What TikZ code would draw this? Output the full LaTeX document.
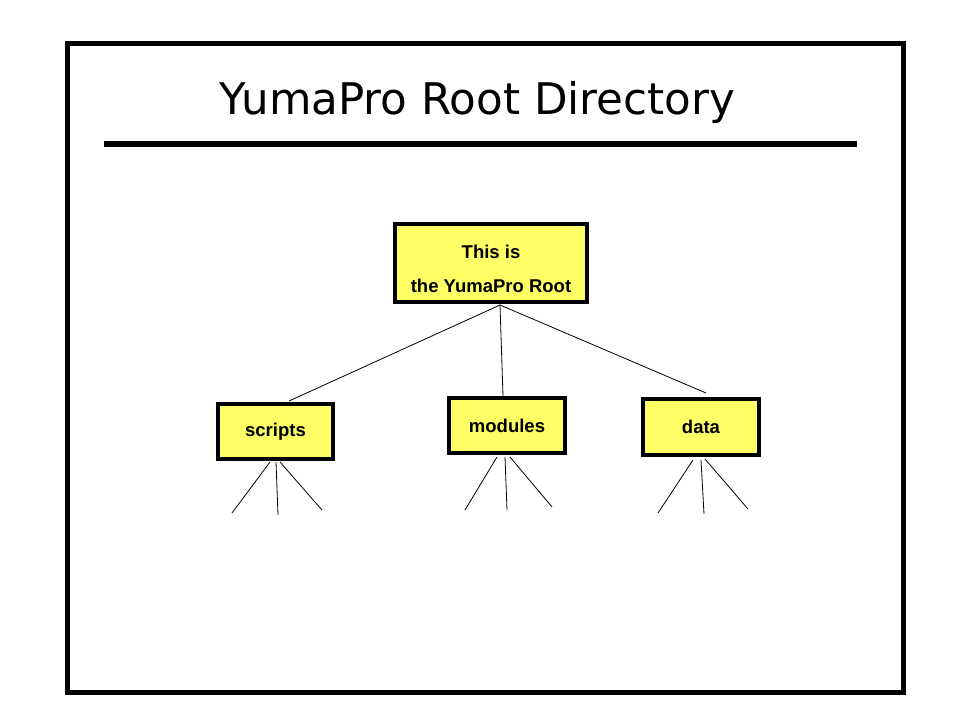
\documentclass[tikz,border=0pt]{standalone}
\usepackage{fontspec}
\setmainfont{Liberation Sans}
\newfontfamily\titlefont{DejaVu Sans}
\definecolor{boxyellow}{RGB}{255,255,102}
\begin{document}
\begin{tikzpicture}[x=1pt,y=-1pt,
  dirbox/.style={draw=black,line width=4pt,fill=boxyellow,inner sep=0pt,
     font=\fontsize{18.5}{34}\selectfont\bfseries,align=center},
  link/.style={draw=black,line width=0.8pt}]
\useasboundingbox[fill=white] (0,0) rectangle (960,720);
\draw[line width=5pt] (67,43) rectangle (903,692);
\node[font=\titlefont\fontsize{43.6}{50}\selectfont,anchor=base] (title) at (477.5,114) {YumaPro Root Directory};
\coordinate (rl) at (104,144);
\coordinate (rr) at (857,144);
\draw[line width=6pt] (rl) -- (rr);

\node[dirbox,minimum width=192pt,minimum height=78pt] (root) at (491,263)
  {\raisebox{-10pt}[0pt][0pt]{\begin{tabular}{@{}c@{}}This is\\the YumaPro Root\end{tabular}}};
\node[dirbox,minimum width=115pt,minimum height=55pt] (scripts) at (275.5,431.5) {scripts};
\node[dirbox,minimum width=116pt,minimum height=55pt] (modules) at (507,425.5) {modules};
\node[dirbox,minimum width=116pt,minimum height=56pt] (data) at (701,427) {data};

\coordinate (rb) at (500,305);
\coordinate (st) at (289,401);
\coordinate (mt) at (503,396);
\coordinate (dt) at (706,393);
\draw[link] (rb) -- (st);
\draw[link] (rb) -- (mt);
\draw[link] (rb) -- (dt);

% scripts children
\coordinate (s1) at (270,462);
\coordinate (s2) at (276,462);
\coordinate (s3) at (280,462);
\coordinate (s1e) at (232,513);
\coordinate (s2e) at (278,515);
\coordinate (s3e) at (322,510);
\draw[link] (s1) -- (s1e);
\draw[link] (s2) -- (s2e);
\draw[link] (s3) -- (s3e);
% modules children
\coordinate (m1) at (497,457);
\coordinate (m2) at (505,457);
\coordinate (m3) at (510,457);
\coordinate (m1e) at (465,510);
\coordinate (m2e) at (507,510);
\coordinate (m3e) at (552,507);
\draw[link] (m1) -- (m1e);
\draw[link] (m2) -- (m2e);
\draw[link] (m3) -- (m3e);
% data children
\coordinate (d1) at (693,460);
\coordinate (d2) at (701,460);
\coordinate (d3) at (705,459);
\coordinate (d1e) at (658,513);
\coordinate (d2e) at (704,514);
\coordinate (d3e) at (748,509);
\draw[link] (d1) -- (d1e);
\draw[link] (d2) -- (d2e);
\draw[link] (d3) -- (d3e);
\end{tikzpicture}
\end{document}
